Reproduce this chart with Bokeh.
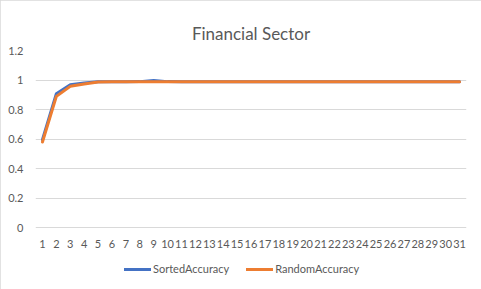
from bokeh.plotting import figure
from bokeh.models import FactorRange, Range1d, FixedTicker, Legend, LegendItem, InlineStyleSheet
from bokeh.embed import file_html
from bokeh.resources import INLINE

categories = ["1", "2", "3", "4", "5", "6", "7", "8", "9", "10", "11", "12", "13", "14", "15", "16",
              "17", "18", "19", "20", "21", "22", "23", "24", "25", "26", "27", "28", "29", "30", "31"]
sorted_accuracy = [0.595, 0.907, 0.968, 0.980, 0.988, 0.988, 0.988, 0.989, 0.997, 0.989, 0.988,
                   0.988, 0.988, 0.988, 0.988, 0.988, 0.988, 0.988, 0.988, 0.988, 0.988, 0.988,
                   0.988, 0.988, 0.988, 0.988, 0.988, 0.988, 0.988, 0.988, 0.988]
random_accuracy = [0.580, 0.889, 0.957, 0.973, 0.986, 0.988, 0.988, 0.988, 0.988, 0.988, 0.988,
                   0.988, 0.988, 0.988, 0.988, 0.988, 0.988, 0.988, 0.988, 0.988, 0.988, 0.988,
                   0.988, 0.988, 0.988, 0.988, 0.988, 0.988, 0.988, 0.988, 0.988]
y_ticks = [0, 0.2, 0.4, 0.6, 0.8, 1.0, 1.2]
y_tick_labels = ["0", "0.2", "0.4", "0.6", "0.8", "1", "1.2"]
series_names = ["SortedAccuracy", "RandomAccuracy"]
series_colors = ["#4472C4", "#ED7D31"]

FONT = "Lato"
GREY = "#595959"

# the frame extends below 0 so the legend can sit inside it
p = figure(width=481, height=289, output_backend="svg", toolbar_location=None,
           x_range=FactorRange(*categories, range_padding=0),
           y_range=Range1d(-0.4, 1.2),
           min_border_left=35, min_border_right=15, min_border_top=50, min_border_bottom=3)

p.title.text = "Financial Sector"
p.title.align = "center"
p.title.vertical_align = "top"
p.title.text_font = FONT
p.title.text_font_size = "17px"
p.title.text_font_style = "normal"
p.title.text_color = GREY

p.outline_line_color = None
p.background_fill_color = "white"
p.border_fill_color = "white"

p.xgrid.grid_line_color = None
p.ygrid.grid_line_color = "#D9D9D9"
p.ygrid.grid_line_width = 1

p.yaxis.ticker = FixedTicker(ticks=y_ticks)
p.yaxis.major_label_overrides = {t: lab for t, lab in zip(y_ticks, y_tick_labels)}
p.xaxis.fixed_location = 0
for ax in (p.xaxis[0], p.yaxis[0]):
    ax.axis_line_color = None
    ax.major_tick_line_color = None
    ax.minor_tick_line_color = None
    ax.major_label_text_font = FONT
    ax.major_label_text_font_size = "11px"
    ax.major_label_text_color = GREY
p.yaxis.major_label_standoff = 6
p.xaxis.major_label_standoff = 6

renderers = []
for vals, col in zip([sorted_accuracy, random_accuracy], series_colors):
    r = p.line(categories, vals, line_color=col, line_width=3, line_join="round", line_cap="round")
    renderers.append(r)

legend = Legend(items=[LegendItem(label=n, renderers=[r]) for n, r in zip(series_names, renderers)],
                orientation="horizontal", location=(89, 11),
                glyph_width=27, glyph_height=10, label_standoff=2, spacing=17,
                padding=0, margin=0, border_line_color=None, background_fill_alpha=0,
                label_text_font=FONT, label_text_font_size="11px", label_text_color=GREY)
p.add_layout(legend, "center")

p.stylesheets = [InlineStyleSheet(css=":host { outline: 1px solid #D9D9D9; outline-offset: -1px; }")]

open("out.html", "w").write(file_html(p, INLINE))
